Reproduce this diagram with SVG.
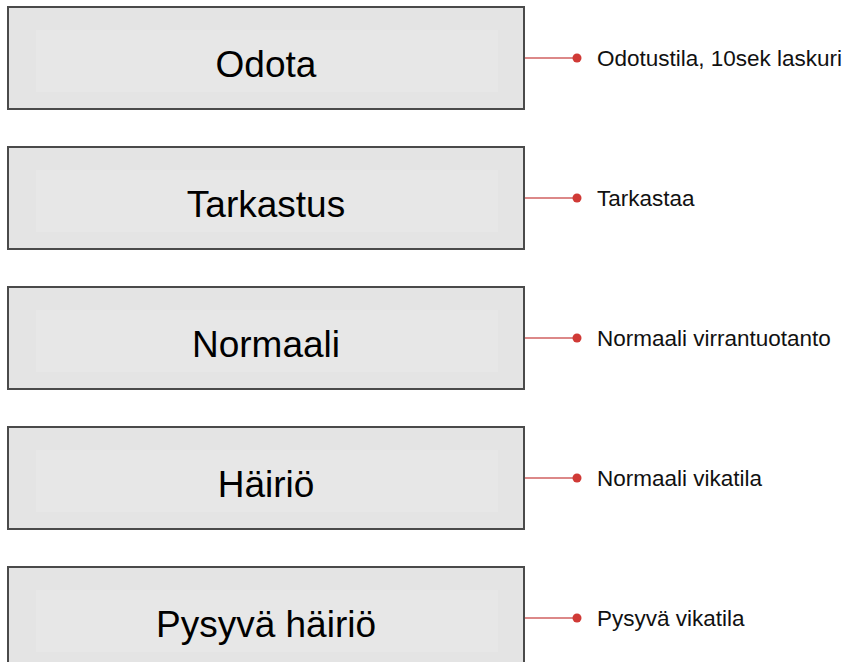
<svg xmlns="http://www.w3.org/2000/svg" width="854" height="662" viewBox="0 0 854 662">
<style>
.box{fill:#e4e4e4;stroke:#4a4a4a;stroke-width:2}
.inner{fill:#e7e7e7;stroke:none}
.title{font-family:"Liberation Sans",Arial,sans-serif;font-size:37px;fill:#000;text-anchor:middle}
.lbl{font-family:"Liberation Sans",Arial,sans-serif;font-size:22.5px;fill:#111}
.con{stroke:#d06060;stroke-width:1.5;fill:none}
.dot{fill:#d03a36}
</style>
<rect width="854" height="662" fill="#fff"/>
<g id="node-odota">
<rect class="box" x="8" y="7" width="516" height="102"/>
<rect class="inner" x="36" y="30" width="462" height="62"/>
<text class="title" x="266" y="77">Odota</text>
</g>
<g id="node-tarkastus">
<rect class="box" x="8" y="147" width="516" height="102"/>
<rect class="inner" x="36" y="170" width="462" height="62"/>
<text class="title" x="266" y="217">Tarkastus</text>
</g>
<g id="node-normaali">
<rect class="box" x="8" y="287" width="516" height="102"/>
<rect class="inner" x="36" y="310" width="462" height="62"/>
<text class="title" x="266" y="357">Normaali</text>
</g>
<g id="node-hairio">
<rect class="box" x="8" y="427" width="516" height="102"/>
<rect class="inner" x="36" y="450" width="462" height="62"/>
<text class="title" x="266" y="497">Häiriö</text>
</g>
<g id="node-pysyva">
<rect class="box" x="8" y="567" width="516" height="102"/>
<rect class="inner" x="36" y="590" width="462" height="62"/>
<text class="title" x="266" y="637">Pysyvä häiriö</text>
</g>
<g id="connectors">
<line class="con" x1="525" y1="58" x2="576" y2="58"/><circle class="dot" cx="577" cy="58" r="4.5"/>
<line class="con" x1="525" y1="198" x2="576" y2="198"/><circle class="dot" cx="577" cy="198" r="4.5"/>
<line class="con" x1="525" y1="338" x2="576" y2="338"/><circle class="dot" cx="577" cy="338" r="4.5"/>
<line class="con" x1="525" y1="478" x2="576" y2="478"/><circle class="dot" cx="577" cy="478" r="4.5"/>
<line class="con" x1="525" y1="618" x2="576" y2="618"/><circle class="dot" cx="577" cy="618" r="4.5"/>
</g>
<g id="labels">
<text class="lbl" x="597" y="66">Odotustila, 10sek laskuri</text>
<text class="lbl" x="597" y="206">Tarkastaa</text>
<text class="lbl" x="597" y="346">Normaali virrantuotanto</text>
<text class="lbl" x="597" y="486">Normaali vikatila</text>
<text class="lbl" x="597" y="626">Pysyvä vikatila</text>
</g>
</svg>
